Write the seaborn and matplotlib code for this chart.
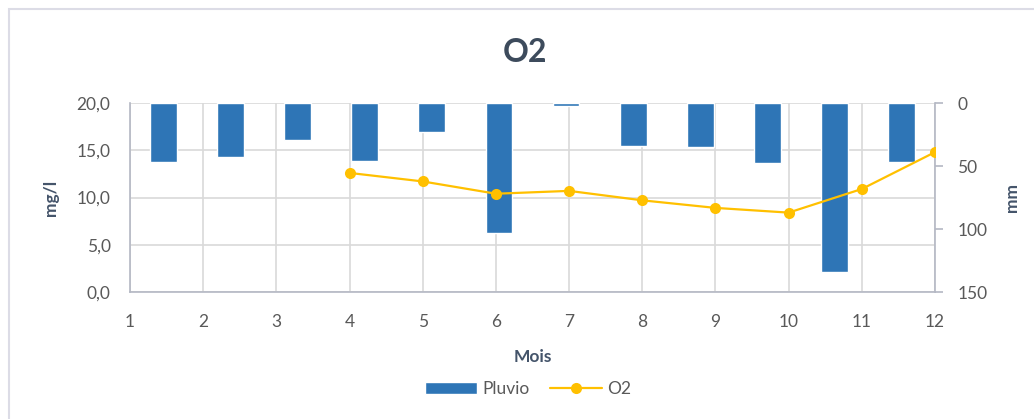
import matplotlib
matplotlib.use("Agg")
import matplotlib.pyplot as plt
from matplotlib.patches import Rectangle
import seaborn as sns
import pandas as pd

# Monthly rainfall (mm) and dissolved oxygen (mg/l)
mois = [1, 2, 3, 4, 5, 6, 7, 8, 9, 10, 11, 12]
pluvio = [47, 43, 29, 46, 23, 103, 2.5, 34, 35, 48, 134, 47]
o2_mois = [4, 5, 6, 7, 8, 9, 10, 11, 12]
o2 = [12.6, 11.7, 10.4, 10.7, 9.7, 8.9, 8.4, 10.9, 14.8]

left_ticks = [0, 5, 10, 15, 20]
left_labels = ["0,0", "5,0", "10,0", "15,0", "20,0"]
right_ticks = [0, 50, 100, 150]

BLUE = "#2E75B6"
GOLD = "#FFC000"
GRID = "#D9D9D9"
TXT = "#595959"
DARK = "#44546A"

sns.set_theme(style="white")
plt.rcParams["font.family"] = ["Lato", "DejaVu Sans"]

fig = plt.figure(figsize=(10.34, 4.19), dpi=100)
pos = [130 / 1034, 1 - 292 / 419, 805 / 1034, 189 / 419]

# Base axes: grid, left axis and month ticks
ax = fig.add_axes(pos, label="base")
ax.set_zorder(1)
ax.set_xlim(1, 12)
ax.set_ylim(0, 20)
ax.set_xticks(mois)
ax.set_yticks(left_ticks)
ax.set_yticklabels(left_labels)
ax.grid(True, color=GRID, lw=1.2)
for s in ["top", "right"]:
    ax.spines[s].set_visible(False)
for s in ["left", "bottom"]:
    ax.spines[s].set_color("#B4B8C4")
    ax.spines[s].set_linewidth(1.2)
ax.tick_params(axis="both", length=0, labelsize=12.5, labelcolor=TXT)
ax.tick_params(axis="y", pad=14)
ax.tick_params(axis="x", pad=16)
ax.set_xlabel("Mois", fontsize=12.5, fontweight="bold", color=DARK)
ax.xaxis.set_label_coords(0.5, -0.30)
ax.set_ylabel("mg/l", fontsize=12.5, fontweight="bold", color=DARK)
ax.yaxis.set_label_coords(-0.088, 0.5)

# Rainfall bars on a secondary category axis, inverted mm scale
axb = fig.add_axes(pos, label="bars")
axb.set_zorder(2)
axb.patch.set_visible(False)
df_p = pd.DataFrame({"mois": [str(m) for m in mois], "pluvio": pluvio})
sns.barplot(data=df_p, x="mois", y="pluvio", color=BLUE, saturation=1,
            width=0.4, ax=axb, label="Pluvio")
axb.set_xlim(-0.5, 11.5)
axb.set_ylim(150, 0)
axb.set_yticks(right_ticks)
axb.yaxis.tick_right()
axb.yaxis.set_label_position("right")
axb.xaxis.set_visible(False)
for s in ["top", "left", "bottom"]:
    axb.spines[s].set_visible(False)
axb.spines["right"].set_color("#B4B8C4")
axb.spines["right"].set_linewidth(1.2)
axb.tick_params(axis="y", length=6, width=1.2, color="#B4B8C4",
                labelsize=12.5, labelcolor=TXT, pad=10)
axb.set_ylabel("mm", fontsize=12.5, fontweight="bold", color=DARK, rotation=90)
axb.yaxis.set_label_coords(1.086, 0.5)
axb.set_xlabel("")
if axb.get_legend():
    axb.get_legend().remove()

# Oxygen line on top, sharing the mg/l scale
axl = fig.add_axes(pos, label="line", sharex=ax, sharey=ax)
axl.set_zorder(3)
axl.patch.set_visible(False)
df_o = pd.DataFrame({"mois": o2_mois, "o2": o2})
sns.lineplot(data=df_o, x="mois", y="o2", color=GOLD, lw=1.6, marker="o",
             markersize=8, markeredgewidth=0, ax=axl, label="O2")
if axl.get_legend():
    axl.get_legend().remove()
axl.axis("off")

# Title
fig.text(525 / 1034, 1 - 52 / 419, "O2", ha="center", va="center",
         fontsize=23, fontweight="bold", color="#3D4B5C")

# Legend
hb, lb = axb.get_legend_handles_labels()
hl, ll = axl.get_legend_handles_labels()
leg = fig.legend(hb + hl, lb + ll, loc="center", ncol=2,
                 bbox_to_anchor=(528 / 1034, 1 - 389 / 419), frameon=False,
                 fontsize=12.5, handlelength=3.0, handletextpad=0.3,
                 columnspacing=1.2)
for t in leg.get_texts():
    t.set_color(TXT)

# Chart area border
fig.add_artist(Rectangle((9 / 1034, -0.1), 1.2, 1.1 - 9 / 419,
                         transform=fig.transFigure, fill=False,
                         edgecolor="#DCDCE6", lw=1.5))

fig.savefig("out.png", dpi=100)
